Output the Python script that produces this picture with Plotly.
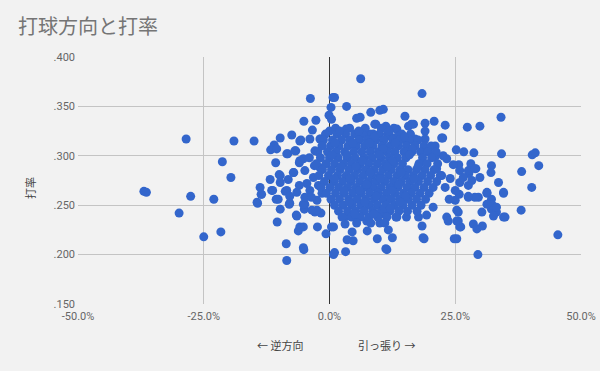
import plotly.graph_objects as go

# ---- data (x: 打球方向 %, y: 打率) ----
left_x = [-36.9, -36.4, -27.6, -29.9, -25.0, -28.5, -3.8, -19.0, -15.0, -21.3, -19.6, -23.0, -21.6,
          -5.1, -2.7, -3.4, -9.8, -7.5, -5.7, -11.0, -11.7, -10.5, -8.3, -6.7, -10.7, -11.8, -10.0,
          -7.1, -6.0, -1.7, -0.1, 0.7, 0.3, 0.0, -14.3, -13.6, -13.8, -11.5, -10.6, -9.8, -10.4,
          -8.6, -8.5, -5.1, -6.6, -6.2, -5.2, -2.4, -0.7, 0.8, 0.8, -5.0, -2.9, -1.7, -7.9, -8.8,
          -4.9, -5.9, -3.9, -1.9, -5.2, -5.9, -2.9, -4.9, -7.2, -9.8, -13.5, -11.3, -9.8, -8.5,
          -8.2, -10.2, -8.0, -6.5, -5.2, -2.5, -5.9, -5.2, -3.9, -3.2, -1.9, -2.5, -3.5, -6.5,
          -7.9, -4.9, -14.4, -8.5, -6.9, -4.0, -3.0, -4.5, -6.0, -2.2, -3.6, -1.5]
left_y = [.264, .263, .259, .242, .218, .317, .358, .315, .315, .294, .278, .256, .223,
          .335, .336, .326, .318, .321, .316, .311, .306, .307, .302, .305, .293, .276, .281,
          .283, .293, .317, .341, .359, .349, .325, .252, .261, .268, .265, .256, .246, .233,
          .211, .194, .205, .240, .224, .228, .228, .221, .200, .228, .246, .243, .242, .252, .264,
          .251, .315, .317, .317, .297, .295, .305, .285, .283, .280, .261, .265, .273, .265,
          .276, .256, .251, .239, .251, .245, .228, .207, .265, .278, .288, .255, .245, .263,
          .259, .258, .253, .302, .305, .298, .290, .272, .270, .270, .258, .262]

top_x = [6.2, 18.4, 1.0, 3.4, 8.2, 10.0, 10.7, 5.4, 6.1, 15.0, 0.4, 9.2, 15.7, 16.7, 19.0, 20.8,
         23.0, 11.2, 3.3, 5.7, 7.7, 8.7, 13.4, 19.0, 19.0, 22.5, 21.0, 12.0, 15.3, 17.0, 13.4,
         16.3, 9.0, 8.0]
top_y = [.378, .363, .359, .350, .344, .346, .347, .338, .339, .340, .337, .332, .330, .332, .333, .335,
         .331, .330, .327, .323, .321, .322, .327, .325, .317, .318, .310, .320, .315, .317, .319,
         .332, .332, .322]

right_x = [27.4, 29.9, 34.1, 25.2, 26.7, 28.7, 34.2, 40.3, 40.9, 41.6, 38.2, 32.2, 32.1, 25.7, 28.1,
           29.1, 29.9, 27.7, 33.6, 40.2, 34.6, 38.1, 34.9, 45.4, 29.5, 31.3, 32.2, 29.6, 27.6, 30.3,
           32.2, 33.2, 32.4, 28.6, 29.3, 30.4, 26.1, 25.3, 25.6, 25.6, 27.6, 28.3, 25.8, 22.3, 23.3,
           22.6, 24.6, 25.9, 21.0, 21.3, 22.3, 24.0, 23.0, 25.0, 25.9, 25.0, 26.6, 27.6, 28.9, 27.6,
           23.8, 20.6, 19.3, 17.7, 15.3, 23.3, 25.3, 24.8, 25.9, 25.3, 18.6, 18.4, 31.3, 32.6, 33.2,
           34.6, 28.9, 34.6, 31.3]
right_y = [.329, .330, .339, .306, .304, .303, .302, .301, .303, .290, .284, .290, .283, .291, .292,
           .287, .278, .282, .273, .268, .262, .245, .238, .220, .200, .262, .256, .258, .258, .243,
           .246, .243, .250, .231, .226, .229, .228, .216, .243, .234, .270, .275, .261, .318, .297,
           .300, .291, .285, .299, .287, .280, .277, .268, .255, .273, .265, .278, .285, .258, .259,
           .256, .248, .240, .238, .238, .238, .245, .216, .228, .234, .217, .229, .251, .239, .248,
           .238, .287, .263, .263]

bottom_x = [1.0, 3.2, 11.4, 3.5, 4.7, 9.5, 12.5, 18.8, 0.4, 4.5, 7.5, 11.7, 3.1, 10.0, 23.6, 7.4,
            13.4, 10.7, 3.4, 5.4, 11.2]
bottom_y = [.202, .203, .205, .215, .214, .216, .217, .216, .228, .223, .224, .225, .231, .232, .234, .234,
            .238, .241, .239, .238, .206]

# dense core, read row by row
core_row_y = [.328, .322, .316, .310, .304, .298, .292, .286, .280, .274, .268, .262, .256, .250, .244, .238, .232]
core_row_x = [
    [1.2, 4.0, 7.1, 10.3, 12.8],
    [-0.8, 1.5, 3.2, 5.0, 6.6, 9.9, 11.5, 14.4, 16.1],
    [-1.2, 0.6, 2.4, 4.1, 5.9, 7.5, 9.2, 10.8, 12.6, 14.0, 15.9, 17.6],
    [-1.5, 0.2, 1.9, 3.7, 5.3, 7.0, 8.6, 10.4, 12.0, 13.7, 15.3, 17.0, 18.8, 20.2],
    [-2.3, -0.4, 1.3, 3.0, 4.8, 6.4, 8.1, 9.7, 11.4, 13.0, 14.8, 16.4, 18.1, 19.6, 21.2],
    [-1.8, 0.0, 1.7, 3.5, 5.1, 6.9, 8.5, 10.2, 11.9, 13.5, 15.2, 18.5, 20.3],
    [-2.6, -0.7, 1.0, 2.8, 4.4, 6.1, 7.8, 9.5, 11.1, 12.8, 14.5, 17.8, 19.4, 21.5],
    [-1.4, 0.4, 2.1, 3.9, 5.6, 7.2, 8.9, 10.6, 12.3, 14.0, 15.6, 17.3, 19.0, 20.8],
    [-2.1, -0.2, 1.6, 3.3, 5.0, 6.7, 8.4, 10.0, 11.7, 13.4, 15.1, 16.7, 18.4, 20.1, 22.0],
    [-1.0, 0.9, 2.6, 4.3, 6.0, 7.7, 9.3, 11.0, 12.7, 14.3, 16.0, 17.7, 19.5, 21.3],
    [-1.7, 0.1, 1.8, 3.6, 5.3, 7.0, 8.6, 10.3, 12.0, 13.6, 15.4, 17.0, 18.8, 20.6],
    [-0.6, 1.2, 2.9, 4.6, 6.3, 8.0, 9.6, 11.3, 13.0, 14.7, 16.3, 18.0, 19.8],
    [0.3, 2.0, 3.8, 5.5, 7.2, 8.9, 10.6, 12.2, 13.9, 15.6, 17.3, 19.1],
    [1.0, 2.7, 4.5, 6.2, 7.9, 9.5, 11.2, 12.9, 14.6, 16.4, 18.2],
    [1.8, 3.6, 5.2, 6.9, 8.6, 10.3, 12.0, 13.8, 15.5, 17.4],
    [2.5, 4.4, 6.1, 7.8, 9.6, 11.4, 13.2],
    [5.4, 8.2, 11.0],
]

# extra points filling gaps inside the core
fill_x = [2.0, 5.8, 8.9, 11.8, 14.9, 1.1, 4.6, 7.9, 10.7, 13.1, 16.5, 0.5, 3.4, 6.5, 9.9, 12.5,
          15.9, 2.3, 5.2, 8.1, 11.5, 14.2, 17.6, 1.0, 4.1, 7.4, 10.1, 13.8, 16.8, 2.9, 6.0, 9.3,
          12.4, 15.1, 3.9, 7.0, 10.9, 14.0, 5.0, 8.8, 12.1]
fill_y = [.325, .325, .319, .325, .319, .313, .313, .313, .307, .313, .307, .301, .301, .295, .301,
          .295, .301, .289, .289, .283, .289, .283, .289, .277, .277, .271, .277, .271, .277, .265,
          .265, .259, .265, .259, .253, .253, .247, .253, .241, .241, .247]

x_tick_vals = [-50, -25, 0, 25, 50]
x_tick_text = ["-50.0%", "-25.0%", "0.0%", "25.0%", "50.0%"]
y_tick_vals = [.150, .200, .250, .300, .350, .400]
y_tick_text = [".150", ".200", ".250", ".300", ".350", ".400"]

core_x, core_y = [], []
for yy, xs in zip(core_row_y, core_row_x):
    for xx in xs:
        core_x.append(xx)
        core_y.append(yy)

xs = left_x + top_x + right_x + bottom_x + core_x + fill_x
ys = left_y + top_y + right_y + bottom_y + core_y + fill_y

fig = go.Figure()
fig.add_trace(go.Scatter(
    x=xs, y=ys, mode="markers",
    marker=dict(size=9, color="#3366cc", line=dict(width=0)),
    hoverinfo="skip", showlegend=False,
))

tick_font = dict(family="Roboto, Arial, sans-serif", size=11, color="#666666")
fig.update_layout(
    width=600, height=371,
    margin=dict(l=78, r=19, t=57, b=67),
    paper_bgcolor="#f2f2f2", plot_bgcolor="#f2f2f2",
    title=dict(text="打球方向と打率", x=18 / 600, xanchor="left", y=1 - 27 / 371, yanchor="middle",
               font=dict(family="Noto Sans CJK JP", size=20, color="#757575")),
    xaxis=dict(range=[-50, 50], tickvals=x_tick_vals, ticktext=x_tick_text,
               showgrid=True, gridcolor="#c4c4c4", gridwidth=1,
               zeroline=True, zerolinecolor="#333333", zerolinewidth=1,
               showline=False, ticks="", tickfont=tick_font, fixedrange=True,
               automargin=False, ticklabelstandoff=4),
    yaxis=dict(range=[.150, .400], tickvals=y_tick_vals, ticktext=y_tick_text,
               showgrid=True, gridcolor="#c4c4c4", gridwidth=1, zeroline=False,
               showline=False, ticks="", tickfont=tick_font, fixedrange=True,
               automargin=False, ticklabelstandoff=2),
    annotations=[
        dict(text="← 逆方向", xref="paper", yref="paper", x=(280 - 78) / 503, y=-(345 - 304) / 247,
             showarrow=False, xanchor="center", yanchor="middle",
             font=dict(family="Noto Sans CJK JP", size=11, color="#444444")),
        dict(text="引っ張り →", xref="paper", yref="paper", x=(386 - 78) / 503, y=-(345 - 304) / 247,
             showarrow=False, xanchor="center", yanchor="middle",
             font=dict(family="Noto Sans CJK JP", size=11, color="#444444")),
        dict(text="打率", xref="paper", yref="paper", x=-(78 - 30) / 503, y=(304 - 188) / 247,
             showarrow=False, xanchor="center", yanchor="middle", textangle=-90,
             font=dict(family="Noto Sans CJK JP", size=11, color="#444444")),
    ],
)

fig.write_html("out.html")
